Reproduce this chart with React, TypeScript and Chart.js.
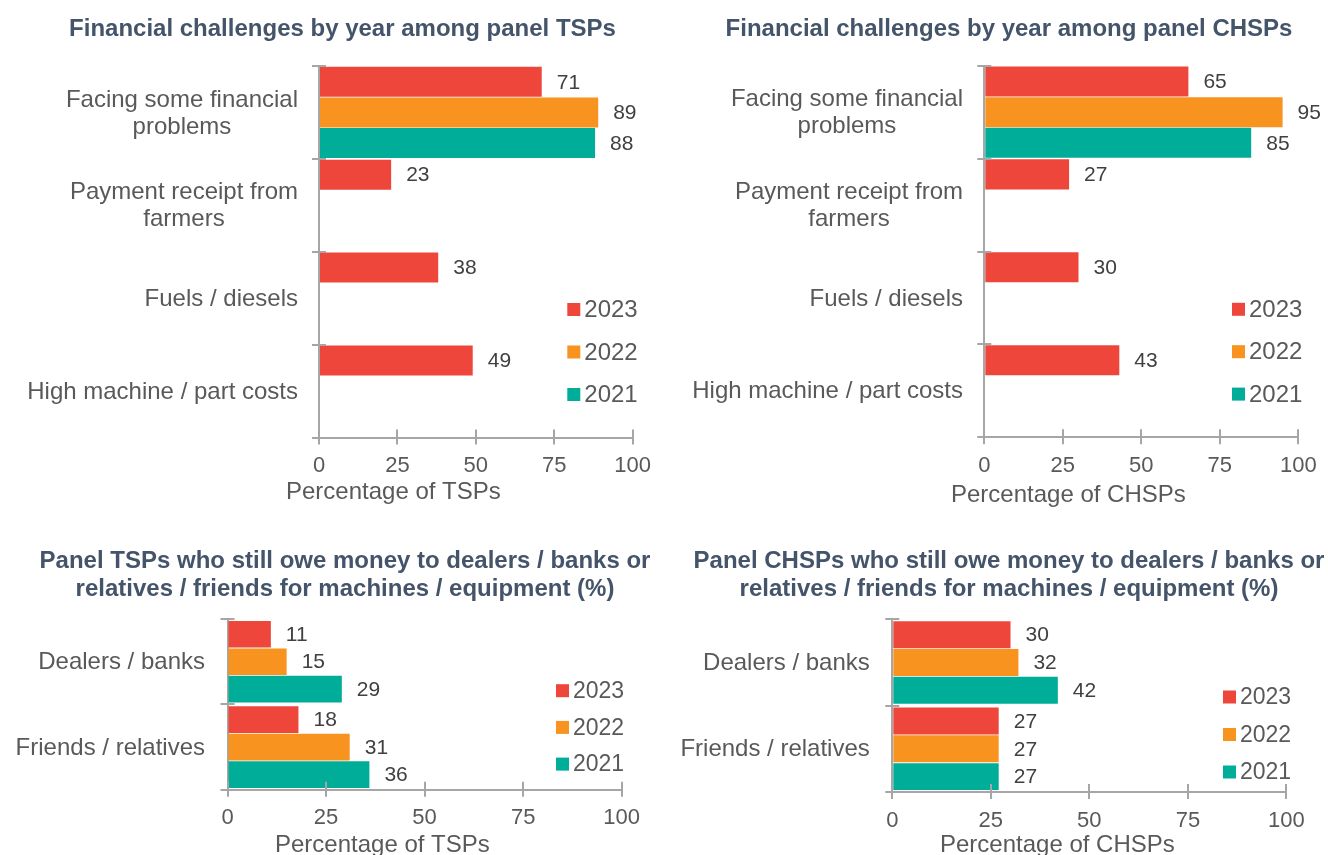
import React, { useEffect, useRef } from "react";
import { Chart, registerables } from "chart.js";

Chart.register(...registerables);

// ---------- DATA ----------
const years = ["2023", "2022", "2021"];

const challengeCategories = [
  ["Facing some financial", "problems"],
  ["Payment receipt from", "farmers"],
  "Fuels / diesels",
  "High machine / part costs",
];
const tsp2023 = [71, 23, 38, 49];
const tsp2022 = [89, null, null, null];
const tsp2021 = [88, null, null, null];

const chsp2023 = [65, 27, 30, 43];
const chsp2022 = [95, null, null, null];
const chsp2021 = [85, null, null, null];

const debtCategories = ["Dealers / banks", "Friends / relatives"];
const tspDebt2023 = [11, 18];
const tspDebt2022 = [15, 31];
const tspDebt2021 = [29, 36];

const chspDebt2023 = [30, 27];
const chspDebt2022 = [32, 27];
const chspDebt2021 = [42, 27];

const xTickValues = [0, 25, 50, 75, 100];

// ---------- STYLE ----------
const FONT = '"Liberation Sans", Arial, Helvetica, sans-serif';
const COLORS = ["#EF463C", "#F7931E", "#00AD99"];
const AXIS = "#A6A6A6";
const TEXT = "#595959";
const LABEL = "#404040";
const TITLE = "#44546A";
const TICK_LEN = 7;

type Spec = {
  title: string[];
  xTitle: string;
  categories: any[];
  series: (number | null)[][];
  box: { left: number; top: number; width: number; height: number };
  area: { left: number; right: number; top: number; bottom: number };
  titleCenterX: number;
  titleY: number;
  titleLH: number;
  labelGap: number;
  tickY: number;
  tickSize: number;
  legend: { x: number; y: number; dy: number; size: number };
  xTitlePos: { x: number; y: number };
  catPct: number;
  barPct: number;
};

const specs: Spec[] = [
  {
    title: ["Financial challenges by year among panel TSPs"],
    xTitle: "Percentage of TSPs",
    categories: challengeCategories,
    series: [tsp2023, tsp2022, tsp2021],
    box: { left: 0, top: 0, width: 664, height: 520 },
    area: { left: 319, right: 632.7, top: 66, bottom: 437.5 },
    titleCenterX: 342.5,
    titleY: 29.5,
    titleLH: 28,
    labelGap: 21,
    tickY: 466,
    tickSize: 22,
    legend: { x: 567.3, y: 309.5, dy: 42.5, size: 24 },
    xTitlePos: { x: 286, y: 492 },
    catPct: 0.99,
    barPct: 0.98,
  },
  {
    title: ["Financial challenges by year among panel CHSPs"],
    xTitle: "Percentage of CHSPs",
    categories: challengeCategories,
    series: [chsp2023, chsp2022, chsp2021],
    box: { left: 664, top: 0, width: 664, height: 520 },
    area: { left: 320.3, right: 634.3, top: 65.7, bottom: 437.3 },
    titleCenterX: 345,
    titleY: 29.5,
    titleLH: 28,
    labelGap: 21.3,
    tickY: 465.7,
    tickSize: 22,
    legend: { x: 568, y: 309.3, dy: 42.4, size: 24 },
    xTitlePos: { x: 287, y: 495 },
    catPct: 0.99,
    barPct: 0.98,
  },
  {
    title: [
      "Panel TSPs who still owe money to dealers / banks or",
      "relatives / friends for machines / equipment (%)",
    ],
    xTitle: "Percentage of TSPs",
    categories: debtCategories,
    series: [tspDebt2023, tspDebt2022, tspDebt2021],
    box: { left: 0, top: 520, width: 664, height: 335 },
    area: { left: 227.5, right: 621.7, top: 99, bottom: 269.8 },
    titleCenterX: 345,
    titleY: 41.7,
    titleLH: 27.5,
    labelGap: 22.5,
    tickY: 298,
    tickSize: 22,
    legend: { x: 556, y: 170.7, dy: 36.7, size: 23 },
    xTitlePos: { x: 275, y: 325 },
    catPct: 0.965,
    barPct: 0.97,
  },
  {
    title: [
      "Panel CHSPs who still owe money to dealers / banks or",
      "relatives / friends for machines / equipment (%)",
    ],
    xTitle: "Percentage of CHSPs",
    categories: debtCategories,
    series: [chspDebt2023, chspDebt2022, chspDebt2021],
    box: { left: 664, top: 520, width: 664, height: 335 },
    area: { left: 228.3, right: 622.4, top: 99.3, bottom: 272 },
    titleCenterX: 345,
    titleY: 41.5,
    titleLH: 27.5,
    labelGap: 22.5,
    tickY: 301,
    tickSize: 22,
    legend: { x: 559, y: 177, dy: 37.5, size: 23 },
    xTitlePos: { x: 276, y: 325 },
    catPct: 0.965,
    barPct: 0.97,
  },
];

function buildConfig(spec: Spec): any {
  const { box, area } = spec;
  const padRight = box.width - area.right;
  const xTickPad = spec.tickY - area.bottom - TICK_LEN - (spec.tickSize * 1.2) / 2;

  const crossTicks = {
    id: "crossTicks",
    afterDatasetsDraw(chart: any) {
      const { ctx, chartArea } = chart;
      const xs = chart.scales.x;
      const n = chart.data.labels.length;
      ctx.save();
      ctx.strokeStyle = AXIS;
      ctx.lineWidth = 2;
      ctx.beginPath();
      xs.ticks.forEach((t: any) => {
        const px = Math.round(xs.getPixelForValue(t.value));
        ctx.moveTo(px, chartArea.bottom);
        ctx.lineTo(px, chartArea.bottom - 8);
      });
      for (let i = 0; i <= n; i++) {
        const py = Math.round(chartArea.top + ((chartArea.bottom - chartArea.top) * i) / n);
        ctx.moveTo(chartArea.left, py);
        ctx.lineTo(chartArea.left + 7, py);
      }
      ctx.stroke();
      ctx.restore();
    },
  };

  const dataLabels = {
    id: "dataLabels",
    afterDatasetsDraw(chart: any) {
      const { ctx } = chart;
      ctx.save();
      ctx.font = `21px ${FONT}`;
      ctx.fillStyle = LABEL;
      ctx.textAlign = "left";
      ctx.textBaseline = "middle";
      chart.data.datasets.forEach((ds: any, i: number) => {
        const meta = chart.getDatasetMeta(i);
        meta.data.forEach((el: any, j: number) => {
          const v = ds.data[j];
          if (v === null || v === undefined) return;
          ctx.fillText(String(v), el.x + 15, el.y + 1);
        });
      });
      ctx.restore();
    },
  };

  const texts = {
    id: "texts",
    afterDraw(chart: any) {
      const { ctx, chartArea } = chart;
      ctx.save();
      // chart title
      ctx.textBaseline = "middle";
      ctx.textAlign = "center";
      ctx.fillStyle = TITLE;
      ctx.font = `bold 24px ${FONT}`;
      spec.title.forEach((line, i) => {
        ctx.fillText(line, spec.titleCenterX, spec.titleY + i * spec.titleLH);
      });
      // category labels (block right-aligned, lines centred)
      const ys = chart.scales.y;
      ctx.font = `24px ${FONT}`;
      ctx.fillStyle = TEXT;
      const lh = 27;
      const right = chartArea.left - spec.labelGap;
      chart.data.labels.forEach((lab: any, i: number) => {
        const lines: string[] = Array.isArray(lab) ? lab : [lab];
        const w = Math.max(...lines.map((l) => ctx.measureText(l).width));
        const cx = right - w / 2;
        const cy = ys.getPixelForValue(i);
        lines.forEach((l, k) => {
          ctx.fillText(l, cx, cy + (k - (lines.length - 1) / 2) * lh + 1);
        });
      });
      // legend
      ctx.textAlign = "left";
      ctx.font = `${spec.legend.size}px ${FONT}`;
      chart.data.datasets.forEach((ds: any, i: number) => {
        const cy = spec.legend.y + i * spec.legend.dy;
        ctx.fillStyle = ds.backgroundColor;
        ctx.fillRect(spec.legend.x, cy - 6.5, 13, 13);
        ctx.fillStyle = TEXT;
        ctx.fillText(ds.label, spec.legend.x + 17, cy + 1);
      });
      // x axis title
      ctx.font = `24px ${FONT}`;
      ctx.fillStyle = TEXT;
      ctx.fillText(spec.xTitle, spec.xTitlePos.x, spec.xTitlePos.y);
      ctx.restore();
    },
  };

  return {
    type: "bar",
    data: {
      labels: spec.categories,
      datasets: years.map((y, i) => ({
        label: y,
        data: spec.series[i],
        backgroundColor: COLORS[i],
        borderWidth: 0,
        categoryPercentage: spec.catPct,
        barPercentage: spec.barPct,
      })),
    },
    options: {
      indexAxis: "y",
      animation: false,
      responsive: false,
      maintainAspectRatio: false,
      layout: { padding: { left: 0, right: padRight, top: area.top, bottom: 0 } },
      plugins: {
        legend: { display: false },
        tooltip: { enabled: false },
        title: { display: false },
      },
      scales: {
        x: {
          type: "linear",
          min: 0,
          max: 100,
          afterBuildTicks: (s: any) => {
            s.ticks = xTickValues.map((v) => ({ value: v }));
          },
          afterFit: (s: any) => {
            s.height = box.height - area.bottom;
          },
          ticks: {
            color: TEXT,
            font: { family: FONT, size: spec.tickSize },
            padding: xTickPad,
            maxRotation: 0,
          },
          grid: {
            drawOnChartArea: false,
            drawTicks: true,
            tickLength: TICK_LEN,
            color: AXIS,
            lineWidth: 2,
          },
          border: { display: true, color: AXIS, width: 2 },
        },
        y: {
          type: "category",
          afterFit: (s: any) => {
            s.width = area.left;
          },
          ticks: {
            display: false,
            autoSkip: false,
          },
          grid: {
            drawOnChartArea: false,
            drawTicks: true,
            tickLength: TICK_LEN,
            offset: true,
            color: AXIS,
            lineWidth: 2,
          },
          border: { display: true, color: AXIS, width: 2 },
        },
      },
    },
    plugins: [crossTicks, dataLabels, texts],
  };
}

function BarPanel({ spec }: { spec: Spec }) {
  const ref = useRef<HTMLCanvasElement | null>(null);
  useEffect(() => {
    if (!ref.current) return;
    const chart = new Chart(ref.current, buildConfig(spec));
    return () => chart.destroy();
  }, [spec]);
  const { box } = spec;
  return (
    <div
      style={{
        position: "absolute",
        left: box.left,
        top: box.top,
        width: box.width,
        height: box.height,
      }}
    >
      <canvas
        ref={ref}
        width={box.width}
        height={box.height}
        style={{ display: "block", width: box.width, height: box.height }}
      />
    </div>
  );
}

export default function App() {
  return (
    <div
      style={{
        position: "absolute",
        left: 0,
        top: 0,
        width: 1328,
        height: 855,
        background: "#ffffff",
        overflow: "hidden",
      }}
    >
      {specs.map((s, i) => (
        <BarPanel key={i} spec={s} />
      ))}
    </div>
  );
}
